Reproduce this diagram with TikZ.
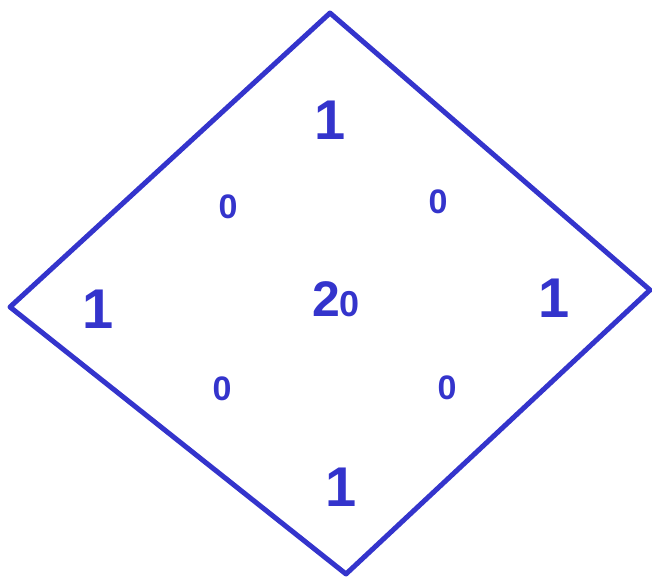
\documentclass[tikz,border=0pt]{standalone}
\usepackage{fontspec}
\setmainfont{Liberation Sans}
\usepackage{xcolor}
\usetikzlibrary{calc}
\definecolor{penblue}{HTML}{3434CC}

\begin{document}
\begin{tikzpicture}[x=1pt,y=-1pt,
	bignum/.style={text=penblue,font=\fontsize{56}{56}\selectfont\bfseries,inner sep=0pt},
	smallnum/.style={text=penblue,font=\fontsize{34}{34}\selectfont\bfseries,inner sep=0pt}]
			
			\useasboundingbox (0,0) rectangle (652,577);
			
			% Corners
			\coordinate (top) at (330,13);
			\coordinate (right) at (650,290);
			\coordinate (bottom) at (346,574);
			\coordinate (left) at (10,307);
			
			% Diamond
			\draw[penblue,line width=5pt,line join=round,line cap=round] (top) -- (right) -- (bottom) -- (left) -- cycle;
			
			% Ones
			\node[bignum] (onetop) at (330,120) {1};
			\node[bignum] (oneleft) at (98,309) {1};
			\node[bignum] (oneright) at (554,298) {1};
			\node[bignum] (onebottom) at (341,487) {1};
			
			% Zeros
			\node[smallnum] (zerotl) at (228,207) {0};
			\node[smallnum] (zerotr) at (438,202) {0};
			\node[smallnum] (zerobl) at (222,389) {0};
			\node[smallnum] (zerobr) at (447,388) {0};
			
			% Centre
			\node[text=penblue,inner sep=0pt,font=\bfseries] (centre) at (336,299) {{\fontsize{50}{50}\selectfont 2}{\fontsize{36}{36}\selectfont 0}};
			
		\end{tikzpicture}
\end{document}
